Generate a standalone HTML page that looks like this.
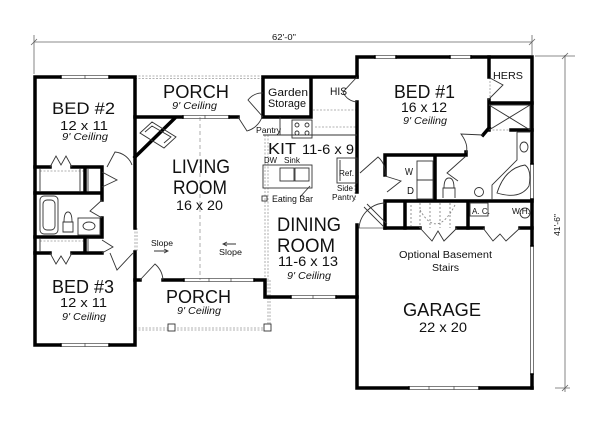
<!DOCTYPE html>
<html><head><meta charset="utf-8"><style>
html,body{margin:0;padding:0;background:#fff;width:600px;height:423px;overflow:hidden}
svg{display:block}
text{font-family:"Liberation Sans",Arial,sans-serif;fill:#111}
.i{font-style:italic}
</style></head><body>
<svg width="600" height="423" viewBox="0 0 600 423" xmlns="http://www.w3.org/2000/svg">
<!-- dimension lines -->
<g stroke="#666" stroke-width="0.8" fill="none">
<path d="M34,42H532 M34,35V74 M532,35V55 M31,45L37,39 M529,45L535,39"/>
<path d="M565,55V392 M535,56H575 M555,388H570 M562,59L568,53 M562,391L568,385"/>
</g>
<text x="272" y="40" font-size="8" textLength="24" lengthAdjust="spacingAndGlyphs">62'-0"</text>
<text transform="translate(560,236) rotate(-90)" font-size="8" textLength="22" lengthAdjust="spacingAndGlyphs">41'-6"</text>

<!-- light dashed / dotted lines -->
<g stroke="#999" stroke-width="0.8" fill="none" stroke-dasharray="2,1.5">
<path d="M135,76H263 M135,78.5H263"/>
<path d="M200,117V280" stroke-dasharray="4,3"/>
<path d="M265,135V280 M268,135V280"/>
<path d="M135,228V252 M137,228V252"/>
<path d="M135,328H268 M135,330H268 M268,280V328 M270,280V328"/>
<path d="M313,110H357 M490,60V100 M489,130H511 M355,185V200"/>
<path d="M40,171H85 M40,241H85 M315,127H357"/>
</g>
<!-- windows -->
<g stroke="#555" stroke-width="0.8" fill="none">
<path d="M60,75.5H110 M60,78.5H110 M85,75V79"/>
<path d="M60,343.5H110 M60,346.5H110 M85,343V347"/>
<path d="M182,115.5H230 M182,118.5H230 M205,115V119"/>
<path d="M183,278.5H255 M183,281.5H255 M209,278V282 M231,278V282"/>
<path d="M290,295.5H337 M290,298.5H337 M313,295V299"/>
<path d="M374,55.5H397 M374,58.5H397 M449,55.5H472 M449,58.5H472"/>
<path d="M408,386.5H480 M408,389.5H480 M429,386V390 M454,386V390"/>
<path d="M530.5,163V200 M533.5,163V200 M530.5,245V375 M533.5,245V375"/>
<path d="M357,228H385"/>
</g>
<!-- thick walls -->
<g fill="none" stroke="#000" stroke-width="3.5" stroke-linecap="square">
<path d="M35,77H60 M110,77H135 M35,77V345 M35,345H60 M110,345H135 M135,77V228 M135,252V345"/>
<path d="M35,167H50 M72,167H102 M85,167V193 M102,167V193 M35,193H102 M102,193V200 M102,218V237 M35,237H102 M85,237V253 M35,253H50 M72,253H102"/>
<path d="M135,117H182 M230,117H238 M135,157L175,118"/>
<path d="M263,77H357 M263,77V117 M263,117H311 M311,77V117"/>
<path d="M357,57H374 M397,57H449 M472,57H532 M357,57V77 M357,102V192 M532,57V163 M532,200V245 M532,375V388"/>
<path d="M489,57V77 M489,100V130 M489,103H532 M511,130H532 M483,135L489,128"/>
<path d="M385,155H466 M466,152V155 M385,155V175 M435,155V200 M385,201H532 M468,201V228 M405,201V228 M385,201V228"/>
<path d="M385,228H420 M457,228H483 M520,228H532 M357,225V388 M357,388H408 M480,388H532"/>
<path d="M135,280H140 M163,280H183 M255,280H265 M265,280V297 M265,297H290 M337,297H357"/>
</g>
<!-- thin fixtures / doors -->
<g fill="none" stroke="#333" stroke-width="0.9">
<path d="M50,167L56,156L61,165L66,156L72,167 M50,253L56,264L61,256L66,264L72,253"/>
<path d="M107,167L115,152A20,20 0 0 1 132,165"/>
<path d="M102,172L117,180L102,187 M102,200L90,211L102,218 M102,240L113,247L102,253"/>
<path d="M110,253L117,270L133,253"/>
<path d="M140,280L155,264A23,23 0 0 1 163,280"/>
<path d="M238,117L247,131A22,22 0 0 0 262,117"/>
<path d="M263,117L248,100A18,18 0 0 1 263,93"/>
<path d="M357,77L343,92A16,16 0 0 0 357,102"/>
<path d="M360,173L378,157A20,20 0 0 1 385,175"/>
<path d="M385,176L401,181L387,192"/>
<path d="M483,135L461,134Q469,145 466,153"/>
<path d="M466,156L447,173L458,181"/>
<path d="M490,78L503,85L488,100"/>
<path d="M359,228A27,27 0 0 1 385,203 M364,207L384,227 M367,204L387,224"/>
<path d="M420,228L432,241L438,231L444,241L457,228 M483,228L493,241L500,234L506,241L520,228"/>
<!-- fireplace -->
<path d="M140,133L152,122L176,137L164,148Z M145,132L152,126L171,137L164,143"/>
<!-- bath left -->
<rect x="40" y="196" width="18" height="38" rx="4"/>
<rect x="43" y="200" width="12" height="30" rx="4"/>
<path d="M63,222H73V232H63Z M64,222Q64,212 68,212Q72,212 72,222"/>
<rect x="78" y="218" width="22" height="17"/>
<ellipse cx="89" cy="226" rx="6" ry="4"/>
<!-- closets -->
<path d="M40,168V192 M80,168V192 M88,168V192 M40,238V252 M88,238V252"/>
<!-- kitchen -->
<path d="M263,135H357 M280,117V135"/>
<rect x="292" y="120" width="20" height="18"/>
<circle cx="297" cy="125" r="2"/><circle cx="307" cy="125" r="2"/><circle cx="297" cy="133" r="2"/><circle cx="307" cy="133" r="2"/>
<rect x="263" y="165" width="49" height="23"/>
<rect x="280" y="168" width="14" height="13"/><rect x="295" y="168" width="14" height="13"/>
<path d="M300,197L310,186"/>
<rect x="262" y="196" width="5" height="5"/>
<rect x="337" y="158" width="20" height="25"/>
<path d="M340,160V181"/>
<!-- laundry -->
<rect x="417" y="161" width="16" height="19"/><rect x="417" y="180" width="16" height="19"/>
<path d="M443,198V188H455V198 M444,188Q444,178 449,178Q454,178 454,188"/>
<circle cx="479" cy="192" r="4.5"/>
<!-- master bath -->
<path d="M489,105L530,130 M530,105L489,130 M489,105H530V130"/>
<path d="M517,132V160L492,185V200 M517,132H530"/>
<ellipse cx="524" cy="147" rx="4" ry="5"/>
<path d="M497,193Q520,200 529,186Q532,170 525,165Q505,168 497,193Z"/>
<!-- utility -->
<rect x="470" y="203" width="18" height="13"/>
<circle cx="525" cy="213" r="5"/>
<!-- stairs -->
<path d="M420,203V228 M430,203V228 M440,203V228 M450,203V228 M411,205V226" stroke-dasharray="2,2" stroke="#888"/>
<path d="M420,210Q437,240 455,205" stroke-dasharray="2,2" stroke="#888"/>
<!-- porch posts -->
<rect x="168" y="324" width="7" height="7" fill="#fff"/>
<rect x="264" y="324" width="7" height="7" fill="#fff"/>
<!-- slope arrows -->
<path d="M154,251H167 M164,249L168,251L164,253 M223,244H236 M227,242L223,244L227,246"/>
</g>

<!-- labels -->
<text x="163" y="98" font-size="18" textLength="66" lengthAdjust="spacingAndGlyphs">PORCH</text>
<text x="172" y="109" font-size="10" class="i" textLength="45" lengthAdjust="spacingAndGlyphs">9' Ceiling</text>
<text x="52" y="114" font-size="17" textLength="63" lengthAdjust="spacingAndGlyphs">BED #2</text>
<text x="60" y="130" font-size="13" textLength="48" lengthAdjust="spacingAndGlyphs">12 x 11</text>
<text x="62" y="140" font-size="10" class="i" textLength="46" lengthAdjust="spacingAndGlyphs">9' Ceiling</text>
<text x="268" y="96" font-size="11" textLength="40" lengthAdjust="spacingAndGlyphs">Garden</text>
<text x="268" y="107" font-size="11" textLength="38" lengthAdjust="spacingAndGlyphs">Storage</text>
<text x="330" y="95" font-size="11" textLength="17" lengthAdjust="spacingAndGlyphs">HIS</text>
<text x="256" y="133" font-size="8.5" textLength="25" lengthAdjust="spacingAndGlyphs">Pantry</text>
<text x="268" y="154" font-size="16" textLength="28" lengthAdjust="spacingAndGlyphs">KIT</text>
<text x="302" y="154" font-size="14" textLength="52" lengthAdjust="spacingAndGlyphs">11-6 x 9</text>
<text x="264" y="163" font-size="8.5" textLength="13" lengthAdjust="spacingAndGlyphs">DW</text>
<text x="284" y="163" font-size="8.5" textLength="16" lengthAdjust="spacingAndGlyphs">Sink</text>
<text x="272" y="202" font-size="9" textLength="41" lengthAdjust="spacingAndGlyphs">Eating Bar</text>
<text x="339" y="176" font-size="8.5" textLength="15" lengthAdjust="spacingAndGlyphs">Ref.</text>
<text x="337" y="191" font-size="8.5" textLength="16" lengthAdjust="spacingAndGlyphs">Side</text>
<text x="332" y="200" font-size="8.5" textLength="24" lengthAdjust="spacingAndGlyphs">Pantry</text>
<text x="172" y="173" font-size="19" textLength="58" lengthAdjust="spacingAndGlyphs">LIVING</text>
<text x="173" y="194" font-size="19" textLength="54" lengthAdjust="spacingAndGlyphs">ROOM</text>
<text x="176" y="210" font-size="14" textLength="47" lengthAdjust="spacingAndGlyphs">16 x 20</text>
<text x="394" y="98" font-size="18" textLength="61" lengthAdjust="spacingAndGlyphs">BED #1</text>
<text x="401" y="112" font-size="14" textLength="46" lengthAdjust="spacingAndGlyphs">16 x 12</text>
<text x="403" y="124" font-size="10" class="i" textLength="44" lengthAdjust="spacingAndGlyphs">9' Ceiling</text>
<text x="493" y="79" font-size="10" textLength="30" lengthAdjust="spacingAndGlyphs">HERS</text>
<text x="405" y="175" font-size="10" textLength="8" lengthAdjust="spacingAndGlyphs">W</text>
<text x="407" y="194" font-size="10" textLength="7" lengthAdjust="spacingAndGlyphs">D</text>
<text x="472" y="214" font-size="8.5" textLength="18" lengthAdjust="spacingAndGlyphs">A. C.</text>
<text x="512" y="214" font-size="8.5" textLength="18" lengthAdjust="spacingAndGlyphs">W.H.</text>
<text x="277" y="231" font-size="19" textLength="64" lengthAdjust="spacingAndGlyphs">DINING</text>
<text x="277" y="252" font-size="19" textLength="58" lengthAdjust="spacingAndGlyphs">ROOM</text>
<text x="278" y="266" font-size="14" textLength="60" lengthAdjust="spacingAndGlyphs">11-6 x 13</text>
<text x="287" y="279" font-size="10" class="i" textLength="44" lengthAdjust="spacingAndGlyphs">9' Ceiling</text>
<text x="399" y="258" font-size="10" textLength="93" lengthAdjust="spacingAndGlyphs">Optional Basement</text>
<text x="432" y="271" font-size="10" textLength="27" lengthAdjust="spacingAndGlyphs">Stairs</text>
<text x="403" y="316" font-size="18" textLength="78" lengthAdjust="spacingAndGlyphs">GARAGE</text>
<text x="419" y="332" font-size="14" textLength="48" lengthAdjust="spacingAndGlyphs">22 x 20</text>
<text x="52" y="293" font-size="18" textLength="62" lengthAdjust="spacingAndGlyphs">BED #3</text>
<text x="60" y="307" font-size="13" textLength="47" lengthAdjust="spacingAndGlyphs">12 x 11</text>
<text x="62" y="320" font-size="10" class="i" textLength="44" lengthAdjust="spacingAndGlyphs">9' Ceiling</text>
<text x="166" y="303" font-size="18" textLength="65" lengthAdjust="spacingAndGlyphs">PORCH</text>
<text x="177" y="314" font-size="10" class="i" textLength="44" lengthAdjust="spacingAndGlyphs">9' Ceiling</text>
<text x="151" y="246" font-size="8" textLength="22" lengthAdjust="spacingAndGlyphs">Slope</text>
<text x="219" y="255" font-size="8" textLength="23" lengthAdjust="spacingAndGlyphs">Slope</text>
</svg>
</body></html>
